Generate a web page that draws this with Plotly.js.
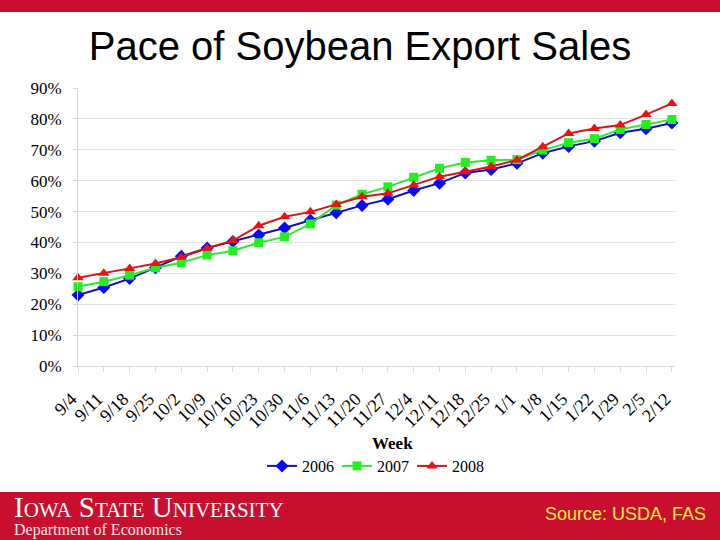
<!DOCTYPE html>
<html>
<head>
<meta charset="utf-8">
<script src="https://cdn.plot.ly/plotly-3.0.1.min.js"></script>
<style>
html,body{margin:0;padding:0;background:#fff;}
#chart{width:720px;height:540px;}
</style>
</head>
<body>
<div id="chart"></div>
<script>
// ---- data ----
var weeks = ['9/4','9/11','9/18','9/25','10/2','10/9','10/16','10/23','10/30','11/6','11/13','11/20','11/27','12/4','12/11','12/18','12/25','1/1','1/8','1/15','1/22','1/29','2/5','2/12'];
var s2006 = [23.0, 25.4, 28.3, 31.8, 35.5, 38.2, 40.3, 42.4, 44.7, 47.2, 49.6, 52.0, 54.0, 56.8, 59.2, 62.5, 63.6, 65.6, 68.9, 71.1, 72.8, 75.5, 76.8, 78.7];
var s2007 = [25.7, 27.3, 29.4, 31.8, 33.4, 35.9, 37.3, 39.9, 41.8, 46.0, 52.1, 55.6, 58.0, 61.1, 64.0, 65.9, 66.6, 66.8, 69.9, 72.3, 73.6, 76.6, 78.2, 79.8];
var s2008 = [28.6, 30.0, 31.6, 33.2, 35.2, 38.1, 40.6, 45.4, 48.3, 49.9, 52.3, 54.8, 55.9, 58.6, 61.3, 62.9, 64.6, 66.7, 71.0, 75.3, 76.9, 78.0, 81.4, 85.0];
var seriesNames = ['2006','2007','2008'];
var yTicks = [0,10,20,30,40,50,60,70,80,90];

// ---- geometry helpers (pixel -> paper) ----
var W = 720, H = 540, ML = 78, MR = 45, MT = 88, MB = 174;
var PW = W - ML - MR, PH = H - MT - MB;
function px(x){ return (x - ML) / PW; }
function py(y){ return (H - MB - y) / PH; }

var serif = 'Liberation Serif, Times New Roman, serif';
var sans = 'Liberation Sans, Arial, sans-serif';
var RED = '#c8102e';

function tr(y, name, color, lineColor, symbol, size){
  return {
    x: weeks, y: y, name: name, type: 'scatter', mode: 'lines+markers',
    cliponaxis: false,
    line: {color: lineColor, width: 2},
    marker: {color: color, symbol: symbol, size: size}
  };
}
var data = [
  tr(s2006, seriesNames[0], '#0a0af0', '#1212b4', 'diamond', 10),
  tr(s2007, seriesNames[1], '#22ee22', '#33e633', 'square', 9),
  tr(s2008, seriesNames[2], '#ee1111', '#d41818', 'triangle-up', 10)
];

var layout = {
  width: W, height: H,
  margin: {l: ML, r: MR, t: MT, b: MB, pad: 0},
  paper_bgcolor: '#ffffff', plot_bgcolor: '#ffffff',
  showlegend: true,
  legend: {orientation: 'h', x: px(262), xanchor: 'left', y: py(466), yanchor: 'middle',
           font: {family: serif, size: 16, color: '#000'}, entrywidth: 30, entrywidthmode: 'pixels',
           itemwidth: 30, tracegroupgap: 0, traceorder: 'normal'},
  title: {text: 'Pace of Soybean Export Sales', font: {family: sans, size: 40, color: '#000'},
          x: 0.5, xref: 'container', xanchor: 'center', y: 1 - 46 / H, yref: 'container', yanchor: 'middle'},
  xaxis: {
    type: 'category', range: [0, 23.12], tickangle: -45,
    tickmode: 'array', tickvals: weeks,
    ticktext: weeks.map(function(w){ return w + '\u00a0\u00a0'; }),
    tickfont: {family: serif, size: 18, color: '#000'},
    showgrid: false, showline: true, linecolor: '#d9d9d9', linewidth: 1,
    ticks: 'outside', ticklen: 5, tickcolor: '#d9d9d9', ticklabelstandoff: 3, zeroline: false
  },
  yaxis: {
    range: [0, 90], tickvals: yTicks, ticktext: yTicks.map(function(v){return v + '%';}),
    tickfont: {family: serif, size: 17, color: '#000'},
    showgrid: true, gridcolor: '#e3e3e3', gridwidth: 1,
    showline: true, linecolor: '#d9d9d9', linewidth: 1,
    ticks: 'outside', ticklen: 4, tickcolor: '#d9d9d9', ticklabelstandoff: 8, zeroline: false
  },
  shapes: [
    {type: 'rect', xref: 'paper', yref: 'paper', x0: px(0), x1: px(720), y0: py(0), y1: py(12),
     fillcolor: RED, line: {width: 0}, layer: 'below'},
    {type: 'rect', xref: 'paper', yref: 'paper', x0: px(0), x1: px(720), y0: py(492), y1: py(540),
     fillcolor: RED, line: {width: 0}, layer: 'below'}
  ],
  annotations: [
    {text: '<b>Week</b>', xref: 'paper', yref: 'paper', x: px(392), y: py(443), xanchor: 'center', yanchor: 'middle',
     showarrow: false, font: {family: serif, size: 17, color: '#000'}},
    {text: 'I<span style="font-size:21px">OWA</span> S<span style="font-size:21px">TATE</span> U<span style="font-size:21px">NIVERSITY</span>',
     xref: 'paper', yref: 'paper', x: px(12), y: py(507), xanchor: 'left', yanchor: 'middle',
     showarrow: false, font: {family: serif, size: 29, color: '#ffffff'}},
    {text: 'Department of Economics', xref: 'paper', yref: 'paper', x: px(12), y: py(530), xanchor: 'left', yanchor: 'middle',
     showarrow: false, font: {family: serif, size: 16, color: '#f0e6e6'}},
    {text: 'Source: USDA, FAS', xref: 'paper', yref: 'paper', x: px(708), y: py(514), xanchor: 'right', yanchor: 'middle',
     showarrow: false, font: {family: sans, size: 18, color: '#ffe84a'}}
  ]
};

Plotly.newPlot('chart', data, layout, {displayModeBar: false, staticPlot: true});
</script>
</body>
</html>
